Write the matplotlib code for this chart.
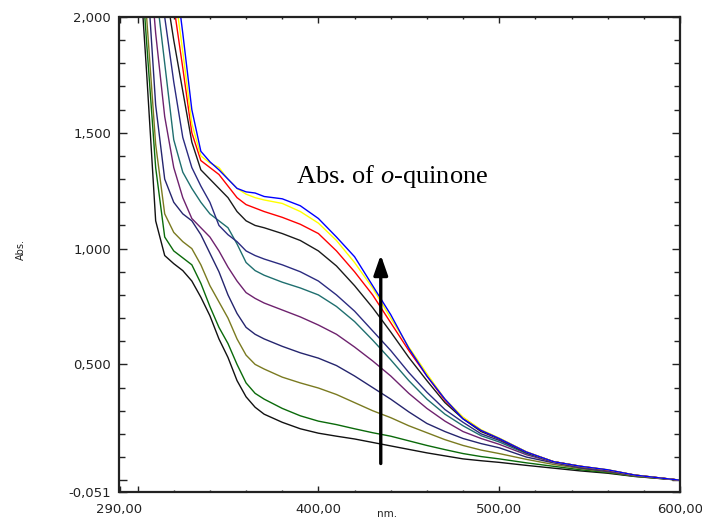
import matplotlib
matplotlib.use("Agg")
import matplotlib.pyplot as plt
from matplotlib.ticker import MultipleLocator, FixedLocator

plt.rcParams["mathtext.fontset"] = "custom"
plt.rcParams["mathtext.rm"] = "Liberation Serif"
plt.rcParams["mathtext.it"] = "Liberation Serif:italic"

wavelength = [300, 305, 310, 315, 320, 325, 330, 335, 340, 345, 350, 355, 360, 365, 370,
              380, 390, 400, 410, 420, 430, 440, 450, 460, 470, 480, 490, 500, 515, 530,
              545, 560, 575, 600]

abs_1 = [2.36, 1.76, 1.12, 0.97, 0.935, 0.905, 0.86, 0.79, 0.71, 0.61, 0.53, 0.43, 0.36, 0.315, 0.285,
         0.25, 0.222, 0.203, 0.19, 0.178, 0.163, 0.148, 0.133, 0.118, 0.105, 0.092, 0.084, 0.077, 0.064, 0.052,
         0.04, 0.03, 0.016, 0.0]
abs_2 = [2.45, 1.89, 1.35, 1.05, 0.99, 0.96, 0.93, 0.85, 0.75, 0.66, 0.59, 0.50, 0.42, 0.375, 0.35,
         0.31, 0.278, 0.255, 0.24, 0.222, 0.205, 0.19, 0.17, 0.15, 0.132, 0.115, 0.102, 0.092, 0.075, 0.06,
         0.045, 0.033, 0.017, 0.0]
abs_3 = [2.55, 2.0, 1.45, 1.15, 1.07, 1.03, 1.0, 0.93, 0.84, 0.77, 0.70, 0.61, 0.54, 0.50, 0.48,
         0.445, 0.42, 0.398, 0.37, 0.335, 0.30, 0.27, 0.235, 0.205, 0.175, 0.15, 0.13, 0.115, 0.09, 0.068,
         0.05, 0.036, 0.018, 0.0]
abs_4 = [2.8, 2.22, 1.62, 1.3, 1.2, 1.15, 1.12, 1.06, 0.98, 0.90, 0.80, 0.72, 0.66, 0.63, 0.61,
         0.578, 0.55, 0.527, 0.495, 0.45, 0.40, 0.35, 0.295, 0.245, 0.21, 0.18, 0.158, 0.14, 0.10, 0.075,
         0.053, 0.038, 0.02, 0.0]
abs_5 = [3.0, 2.4, 1.93, 1.57, 1.35, 1.22, 1.13, 1.09, 1.05, 0.99, 0.92, 0.86, 0.81, 0.785, 0.765,
         0.735, 0.705, 0.67, 0.63, 0.575, 0.515, 0.45, 0.375, 0.31, 0.255, 0.21, 0.18, 0.155, 0.11, 0.078,
         0.056, 0.04, 0.02, 0.0]
abs_6 = [3.2, 2.6, 2.13, 1.8, 1.47, 1.33, 1.26, 1.2, 1.15, 1.12, 1.09, 1.02, 0.94, 0.905, 0.885,
         0.855, 0.83, 0.80, 0.75, 0.685, 0.605, 0.52, 0.43, 0.35, 0.285, 0.235, 0.192, 0.165, 0.115, 0.08,
         0.058, 0.042, 0.021, 0.0]
abs_7 = [3.4, 2.8, 2.3, 2.0, 1.72, 1.48, 1.35, 1.27, 1.2, 1.1, 1.06, 1.03, 0.99, 0.97, 0.955,
         0.93, 0.90, 0.86, 0.80, 0.73, 0.645, 0.56, 0.465, 0.38, 0.305, 0.25, 0.20, 0.172, 0.118, 0.08,
         0.059, 0.043, 0.022, 0.0]
abs_8 = [3.6, 3.0, 2.5, 2.15, 1.9, 1.68, 1.46, 1.34, 1.3, 1.26, 1.22, 1.16, 1.12, 1.1, 1.09,
         1.065, 1.035, 0.99, 0.925, 0.84, 0.745, 0.64, 0.53, 0.43, 0.335, 0.265, 0.21, 0.178, 0.12, 0.08,
         0.06, 0.044, 0.022, 0.0]
abs_9 = [3.8, 3.2, 2.7, 2.35, 2.05, 1.78, 1.5, 1.38, 1.35, 1.32, 1.27, 1.22, 1.19, 1.175, 1.16,
         1.135, 1.105, 1.065, 0.99, 0.90, 0.80, 0.68, 0.56, 0.45, 0.345, 0.27, 0.215, 0.18, 0.122, 0.08,
         0.06, 0.044, 0.022, 0.0]
abs_10 = [3.9, 3.3, 2.8, 2.45, 2.14, 1.85, 1.54, 1.4, 1.37, 1.35, 1.3, 1.26, 1.235, 1.22, 1.21,
          1.195, 1.16, 1.11, 1.035, 0.94, 0.83, 0.70, 0.575, 0.46, 0.35, 0.272, 0.218, 0.182, 0.123, 0.08,
          0.06, 0.045, 0.022, 0.0]
abs_11 = [4.0, 3.4, 2.9, 2.55, 2.24, 1.93, 1.6, 1.42, 1.375, 1.34, 1.3, 1.26, 1.245, 1.24, 1.225,
          1.215, 1.185, 1.13, 1.05, 0.965, 0.84, 0.715, 0.57, 0.45, 0.35, 0.265, 0.215, 0.18, 0.122, 0.08,
          0.06, 0.045, 0.022, 0.0]

series = [abs_1, abs_2, abs_3, abs_4, abs_5, abs_6, abs_7, abs_8, abs_9, abs_10, abs_11]
colors = ["#111111", "#0a6a0a", "#7a7a20", "#25256e", "#6e226e", "#1f6f6f",
          "#2b2b80", "#1a1a1a", "#ff0000", "#ffff00", "#0000ff"]

xticks = [290, 300, 400, 500, 600]
xticklabels = ["290,00", "", "400,00", "500,00", "600,00"]
yticks = [-0.051, 0.0, 0.5, 1.0, 1.5, 2.0]
yticklabels = ["-0,051", "", "0,500", "1,000", "1,500", "2,000"]

fig = plt.figure(figsize=(7.02, 5.23), dpi=100)
ax = fig.add_axes([119.5 / 702, 1 - 492 / 523, (680 - 119.5) / 702, (492 - 17) / 523])

for vals, c in zip(series, colors):
    ax.plot(wavelength, vals, color=c, lw=1.0)

ax.set_xlim(290, 600)
ax.set_ylim(-0.051, 2.0)

ax.xaxis.set_major_locator(FixedLocator(xticks))
ax.set_xticklabels(xticklabels)
ax.xaxis.set_minor_locator(MultipleLocator(20))
ax.yaxis.set_major_locator(FixedLocator(yticks))
ax.set_yticklabels(yticklabels)
ax.yaxis.set_minor_locator(MultipleLocator(0.1))

ax.tick_params(which="both", direction="in", top=True, right=True, width=1.0, color="#222222",
               labelsize=9.5, labelcolor="#222222")
ax.tick_params(axis="y", which="major", length=6, pad=6)
ax.tick_params(axis="y", which="minor", length=4)
ax.tick_params(axis="x", which="major", length=4, pad=8)
ax.tick_params(axis="x", which="minor", length=1.5)
for lab in ax.get_xticklabels() + ax.get_yticklabels():
    lab.set_family("DejaVu Sans")

for s in ax.spines.values():
    s.set_linewidth(1.6)
    s.set_color("#222222")

ax.set_xlabel("nm.", fontsize=7.5, family="DejaVu Sans", color="#222222")
ax.xaxis.set_label_coords((387 - 119.5) / 560.5, -(509 - 492) / 475)
ax.set_ylabel("Abs.", fontsize=7, family="DejaVu Sans", color="#222222")
ax.yaxis.set_label_coords((26 - 119.5) / 560.5, (492 - 250) / 475)

ax.annotate("", xy=(434.5, 0.985), xytext=(434.5, 0.06),
            arrowprops=dict(arrowstyle="-|>,head_width=0.42,head_length=1.2", lw=2.4, color="black"))
ax.text(387.5, 1.284, "Abs. of $\\mathit{o}$-quinone", fontsize=19, family="Liberation Serif",
        ha="left", va="baseline")

fig.savefig("out.png", dpi=100)
